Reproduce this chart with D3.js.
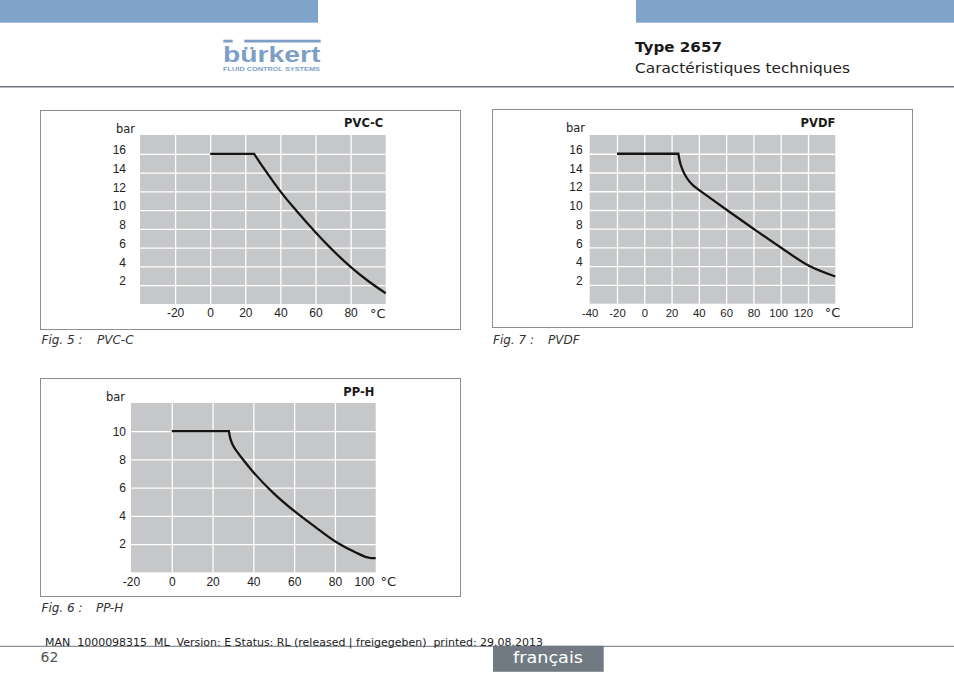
<!DOCTYPE html>
<html><head><meta charset="utf-8">
<script src="https://cdn.jsdelivr.net/npm/d3@7"></script>
<style>
body{margin:0;background:#fff;}
svg{display:block;font-family:"DejaVu Sans","Liberation Sans",sans-serif;}
</style></head><body>
<svg id="c" width="954" height="673"></svg>
<script>
// ---------- data ----------
const pvccTemp = [0, 25, 30, 35, 40, 50, 60, 70, 80, 90, 100];
const pvccBar  = [16, 16, 14.6, 13.28, 12.0, 9.75, 7.65, 5.7, 3.95, 2.45, 1.15];

const pvdfTemp = [-20, 25, 26, 27, 28, 30, 33, 36, 40, 50, 60, 80, 100, 120, 140];
const pvdfBar  = [16, 16, 15.2, 14.7, 14.3, 13.7, 13.05, 12.6, 12.15, 11.1, 10.05, 8.0, 6.0, 4.1, 2.9];

const pphTemp = [0, 28, 28.5, 29, 30, 32, 35, 40, 50, 60, 70, 80, 90, 95, 98, 100];
const pphBar  = [10, 10, 9.6, 9.35, 9.0, 8.55, 7.98, 7.1, 5.6, 4.35, 3.25, 2.2, 1.42, 1.1, 1.0, 1.0];

const pvccXTicks = [-20, 0, 20, 40, 60, 80];
const pvdfXTicks = [-40, -20, 0, 20, 40, 60, 80, 100, 120];
const pphXTicks  = [-20, 0, 20, 40, 60, 80, 100];
const bar16YTicks = [2, 4, 6, 8, 10, 12, 14, 16];
const pphYTicks   = [2, 4, 6, 8, 10];

const titles = ["PVC-C", "PVDF", "PP-H"];
const captions = [["Fig. 5 :", "PVC-C"], ["Fig. 7 :", "PVDF"], ["Fig. 6 :", "PP-H"]];
const yUnit = "bar", xUnit = "°C";

// ---------- page ----------
const svg = d3.select("#c");
const blue = "#80a3c9", rule = "#6e757c";

svg.append("rect").attr("x",0).attr("y",0).attr("width",318).attr("height",22.7).attr("fill",blue);
svg.append("rect").attr("x",636).attr("y",0).attr("width",318).attr("height",22.7).attr("fill",blue);
svg.append("rect").attr("x",0).attr("y",86).attr("width",954).attr("height",1.5).attr("fill",rule);

// logo
const logoC = "#7d9fc7";
svg.append("rect").attr("x",223.3).attr("y",39.7).attr("width",9.4).attr("height",2.8).attr("fill",logoC);
svg.append("rect").attr("x",244.3).attr("y",39.7).attr("width",76.4).attr("height",2.8).attr("fill",logoC);
svg.append("text").attr("x",223).attr("y",61.7).attr("textLength",97.5).attr("lengthAdjust","spacingAndGlyphs")
  .attr("font-family","Liberation Sans, Arial, sans-serif").attr("font-weight","bold").attr("font-size",22.5).attr("fill",logoC).text("bürkert");
svg.append("text").attr("x",223).attr("y",71.2).attr("textLength",97).attr("lengthAdjust","spacingAndGlyphs")
  .attr("font-family","Liberation Sans, Arial, sans-serif").attr("font-weight","bold").attr("font-size",4.8).attr("fill",logoC).text("FLUID CONTROL SYSTEMS");

svg.append("text").attr("x",635).attr("y",51.5).attr("textLength",87).attr("lengthAdjust","spacingAndGlyphs")
  .attr("font-weight","bold").attr("font-size",13.5).attr("fill","#1a1a1a").text("Type 2657");
svg.append("text").attr("x",635).attr("y",73).attr("textLength",215).attr("lengthAdjust","spacingAndGlyphs")
  .attr("font-size",13.5).attr("fill","#222").text("Caractéristiques techniques");

// footer
svg.append("rect").attr("x",0).attr("y",645.8).attr("width",954).attr("height",1).attr("fill",rule);
svg.append("text").attr("x",45).attr("y",645.5).attr("textLength",498).attr("lengthAdjust","spacingAndGlyphs")
  .attr("font-size",10.5).attr("fill","#222").style("white-space","pre")
  .text("MAN  1000098315  ML  Version: E Status: RL (released | freigegeben)  printed: 29.08.2013");
svg.append("text").attr("x",40.5).attr("y",662).attr("font-size",14).attr("fill","#555").text("62");
svg.append("rect").attr("x",493).attr("y",645.8).attr("width",110.7).attr("height",26).attr("fill","#717a82");
svg.append("text").attr("x",548).attr("y",663).attr("text-anchor","middle").attr("textLength",70).attr("lengthAdjust","spacingAndGlyphs")
  .attr("font-size",15.5).attr("fill","#fff").text("français");

// ---------- charts ----------
const fmt = d => String(d);

function drawChart(o) {
  const g = svg.append("g");
  g.append("rect").attr("x",o.box[0]).attr("y",o.box[1]).attr("width",o.box[2]).attr("height",o.box[3])
    .attr("fill","none").attr("stroke","#8e8e8e").attr("stroke-width",1);
  const x = d3.scaleLinear().domain(o.xDomain).range([o.left, o.right]);
  const y = d3.scaleLinear().domain(o.yDomain).range([o.bottom, o.top]);
  g.append("rect").attr("x",o.left).attr("y",o.top).attr("width",o.right-o.left).attr("height",o.bottom-o.top).attr("fill","#c6c7c9");

  const xGrid = o.xTicks.filter(v => v > o.xDomain[0] && v < o.xDomain[1]);
  const yGrid = o.yTicks.filter(v => v > o.yDomain[0] && v < o.yDomain[1]);
  const gx = g.append("g").attr("transform",`translate(0,${o.bottom})`)
    .call(d3.axisBottom(x).tickValues(xGrid).tickSize(-(o.bottom-o.top)).tickFormat(""));
  gx.select(".domain").remove();
  gx.selectAll("line").attr("stroke","#fff").attr("stroke-width",1.3);
  const gy = g.append("g").attr("transform",`translate(${o.left},0)`)
    .call(d3.axisLeft(y).tickValues(yGrid).tickSize(-(o.right-o.left)).tickFormat(""));
  gy.select(".domain").remove();
  gy.selectAll("line").attr("stroke","#fff").attr("stroke-width",1.3);

  // labels
  const lx = g.append("g").attr("transform",`translate(0,${o.bottom})`)
    .call(d3.axisBottom(x).tickValues(o.xTicks).tickSize(0).tickFormat(fmt));
  lx.select(".domain").remove();
  const nx = o.xTicks.length;
  lx.selectAll("text").attr("dy",null).attr("y",13.3).attr("font-size",o.xFont).attr("font-family",null).attr("fill","#222")
    .attr("dx",(d,i) => i === nx-1 ? o.lastDx : (i === nx-2 ? o.prevDx : 0));
  const ly = g.append("g").attr("transform",`translate(${o.left},0)`)
    .call(d3.axisLeft(y).tickValues(o.yTicks).tickSize(0).tickPadding(o.yPad).tickFormat(fmt));
  ly.select(".domain").remove();
  ly.selectAll("text").attr("dy",o.yDy).attr("font-size",12).attr("font-family",null).attr("fill","#222");

  g.append("text").attr("x",o.barX).attr("y",o.barY).attr("text-anchor","end").attr("font-size",11.5).attr("fill","#222").text(yUnit);
  g.append("text").attr("x",o.right + o.unitDx).attr("y",o.bottom+13.5).attr("text-anchor","end").attr("font-size",13).attr("fill","#222").text(xUnit);
  g.append("text").attr("x",o.titleX).attr("y",o.titleY).attr("text-anchor","end").attr("font-size",11.5).attr("font-weight","bold").attr("fill","#1a1a1a").text(o.title);

  // curve: flat part + smooth decay, one path
  const pts = o.temp.map((t,i) => [x(t), y(o.val[i])]);
  const lin = d3.line();
  const mono = d3.line().curve(d3.curveMonotoneX);
  const d = lin(pts.slice(0,2)) + mono(pts.slice(1)).replace(/^M/, "L");
  g.append("path").attr("d",d).attr("fill","none").attr("stroke","#151515").attr("stroke-width",2.3).attr("stroke-linejoin","miter");

  // caption
  g.append("text").attr("x",o.capX).attr("y",o.capY).attr("font-size",12).attr("font-style","italic").attr("fill","#333").text(o.cap[0]);
  g.append("text").attr("x",o.capX2).attr("y",o.capY).attr("font-size",12).attr("font-style","italic").attr("fill","#333").text(o.cap[1]);
}

drawChart({box:[40.5,110.5,420,219], left:140, right:385.7, top:135, bottom:304,
  xDomain:[-40,100], yDomain:[0,18], xTicks:pvccXTicks, yTicks:bar16YTicks, lastDx:0, prevDx:0, xFont:12,
  temp:pvccTemp, val:pvccBar, yPad:14, yDy:"-0.3", barX:135, barY:132.7, unitDx:0,
  title:titles[0], titleX:383.3, titleY:127.3, cap:captions[0], capX:41.5, capX2:97, capY:344});

drawChart({box:[492.5,109.5,420,218], left:589.7, right:835.3, top:135, bottom:303.7,
  xDomain:[-40,140], yDomain:[0,18], xTicks:pvdfXTicks, yTicks:bar16YTicks, lastDx:-5, prevDx:-2.5, xFont:11.3,
  temp:pvdfTemp, val:pvdfBar, yPad:7, yDy:"-0.3", barX:585, barY:131.7, unitDx:5,
  title:titles[1], titleX:835.3, titleY:127.3, cap:captions[1], capX:493, capX2:548, capY:343.5});

drawChart({box:[40.5,378.5,420,218], left:131, right:375.7, top:403, bottom:572.3,
  xDomain:[-20,100], yDomain:[0,12], xTicks:pphXTicks, yTicks:pphYTicks, lastDx:-11.7, prevDx:0, xFont:12,
  temp:pphTemp, val:pphBar, yPad:5, yDy:"0.32em", barX:125, barY:401.3, unitDx:20.5,
  title:titles[2], titleX:374.3, titleY:396.3, cap:captions[2], capX:41.5, capX2:96, capY:612});
</script>
</body></html>
